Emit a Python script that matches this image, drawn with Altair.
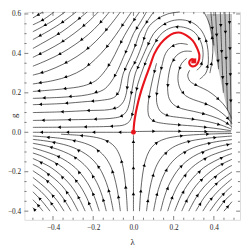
import math
import altair as alt
import pandas as pd

X_DOMAIN = [-0.542, 0.53]
Y_DOMAIN = [-0.444, 0.61]
X_TICKS = [-0.4, -0.2, 0.0, 0.2, 0.4]
Y_TICKS = [-0.4, -0.2, 0.0, 0.2, 0.4, 0.6]
W, H = 223, 215

# streamlines above the g = 0 axis, left of the red separatrix (flow order)
UPPER_LEFT = [
    [(0.315, 0.315), (0.335, 0.335), (0.345, 0.375), (0.345, 0.42), (0.33, 0.47), (0.3, 0.51), (0.26, 0.53), (0.21, 0.535),
     (0.165, 0.52), (0.13, 0.49), (0.105, 0.45), (0.07, 0.38), (0.04, 0.3), (0.022, 0.245), (0.012, 0.2),
     (0.003, 0.14), (-0.006, 0.09), (-0.02, 0.055), (-0.045, 0.038), (-0.1, 0.031), (-0.25, 0.027), (-0.5, 0.025)],
    [(0.33, 0.27), (0.36, 0.3), (0.372, 0.35), (0.372, 0.39), (0.37, 0.42), (0.36, 0.47), (0.335, 0.52), (0.295, 0.555),
     (0.245, 0.57), (0.19, 0.565), (0.14, 0.54), (0.1, 0.5),
     (0.075, 0.45), (0.04, 0.37), (0.01, 0.3), (-0.01, 0.2), (-0.022, 0.14), (-0.035, 0.105), (-0.06, 0.082),
     (-0.1, 0.072), (-0.2, 0.066), (-0.35, 0.063), (-0.5, 0.06)],
    [(0.23, 0.61), (0.17, 0.6), (0.12, 0.575), (0.08, 0.54), (0.06, 0.5), (0.045, 0.45), (0.015, 0.37), (-0.02, 0.3),
     (-0.035, 0.2), (-0.05, 0.155), (-0.075, 0.128), (-0.12, 0.115), (-0.23, 0.11), (-0.35, 0.104), (-0.5, 0.1)],
    [(0.1, 0.61), (0.06, 0.55), (0.03, 0.5), (0.013, 0.45), (-0.015, 0.38), (-0.05, 0.3), (-0.075, 0.2), (-0.1, 0.175),
     (-0.16, 0.162), (-0.23, 0.156), (-0.35, 0.146), (-0.5, 0.14)],
    [(0.065, 0.61), (0.03, 0.55), (0.0, 0.5), (-0.02, 0.45), (-0.05, 0.38), (-0.085, 0.3), (-0.115, 0.25),
     (-0.15, 0.215), (-0.23, 0.19), (-0.35, 0.178), (-0.5, 0.172)],
    [(0.03, 0.61), (-0.01, 0.55), (-0.045, 0.49), (-0.075, 0.43), (-0.11, 0.36), (-0.15, 0.3), (-0.19, 0.26),
     (-0.25, 0.235), (-0.35, 0.22), (-0.5, 0.207)],
    [(-0.01, 0.61), (-0.05, 0.55), (-0.09, 0.49), (-0.135, 0.43), (-0.19, 0.37), (-0.25, 0.32), (-0.32, 0.285),
     (-0.4, 0.262), (-0.5, 0.245)],
    [(-0.065, 0.61), (-0.11, 0.55), (-0.16, 0.49), (-0.215, 0.435), (-0.28, 0.385), (-0.35, 0.345), (-0.43, 0.31),
     (-0.5, 0.29)],
    [(-0.12, 0.61), (-0.17, 0.55), (-0.225, 0.495), (-0.29, 0.445), (-0.36, 0.4), (-0.43, 0.365), (-0.5, 0.335)],
    [(-0.175, 0.61), (-0.23, 0.555), (-0.29, 0.505), (-0.36, 0.455), (-0.43, 0.415), (-0.5, 0.38)],
    [(-0.23, 0.61), (-0.29, 0.56), (-0.355, 0.51), (-0.43, 0.465), (-0.5, 0.425)],
    [(-0.285, 0.61), (-0.35, 0.56), (-0.42, 0.515), (-0.5, 0.47)],
    [(-0.34, 0.61), (-0.41, 0.56), (-0.5, 0.51)],
    [(-0.395, 0.61), (-0.45, 0.57), (-0.5, 0.545)],
    [(-0.45, 0.61), (-0.5, 0.58)],
    [(-0.01, 0.0), (-0.1, 0.0), (-0.25, 0.0), (-0.5, 0.0)],
]

# streamlines right of the separatrix, running towards lambda = 1/2
UPPER_RIGHT = [
    [(0.01, 0.004), (0.1, 0.005), (0.2, 0.005), (0.3, 0.004), (0.4, 0.003), (0.485, 0.002)],
    [(0.115, 0.35), (0.1, 0.29), (0.085, 0.22), (0.075, 0.16), (0.072, 0.11), (0.08, 0.075), (0.105, 0.055),
     (0.15, 0.045), (0.22, 0.038), (0.32, 0.03), (0.42, 0.018), (0.485, 0.008)],
    [(0.27, 0.445), (0.23, 0.45), (0.19, 0.435), (0.16, 0.4), (0.14, 0.33), (0.125, 0.26), (0.115, 0.19),
     (0.118, 0.14), (0.135, 0.105), (0.17, 0.085), (0.23, 0.075), (0.3, 0.066), (0.38, 0.052), (0.44, 0.035),
     (0.487, 0.016)],
    [(0.29, 0.41), (0.25, 0.41), (0.215, 0.39), (0.19, 0.35), (0.175, 0.29), (0.17, 0.22), (0.178, 0.17),
     (0.2, 0.14), (0.24, 0.12), (0.3, 0.106), (0.36, 0.091), (0.42, 0.07), (0.465, 0.046), (0.49, 0.026)],
    [(0.265, 0.375), (0.24, 0.35), (0.225, 0.31), (0.222, 0.26), (0.235, 0.215), (0.26, 0.185), (0.3, 0.165),
     (0.35, 0.148), (0.4, 0.125), (0.44, 0.098), (0.47, 0.07), (0.49, 0.045)],
    [(0.28, 0.315), (0.27, 0.29), (0.28, 0.26), (0.3, 0.245), (0.33, 0.23), (0.37, 0.21), (0.41, 0.18),
     (0.445, 0.145), (0.47, 0.11), (0.488, 0.07)],
    [(0.38, 0.3), (0.392, 0.37), (0.395, 0.44), (0.388, 0.51), (0.37, 0.57), (0.35, 0.61)],
]

# streamlines inside the shaded region
SHADED = [
    [(0.385, 0.61), (0.393, 0.52), (0.4, 0.44)],
    [(0.408, 0.61), (0.415, 0.47), (0.423, 0.32)],
    [(0.432, 0.61), (0.438, 0.43), (0.447, 0.2)],
    [(0.455, 0.61), (0.46, 0.4), (0.468, 0.11)],
    [(0.477, 0.61), (0.481, 0.35), (0.486, 0.04)],
]

# streamlines below the g = 0 axis
LOWER_LEFT = [
    [(0.0, -0.4), (0.0, -0.2), (0.0, -0.015)],
    [(-0.03, -0.4), (-0.0345, -0.324), (-0.0405, -0.255), (-0.051, -0.18), (-0.066, -0.123), (-0.09, -0.077),
     (-0.12, -0.05), (-0.165, -0.031), (-0.24, -0.018), (-0.36, -0.01)],
    [(-0.065, -0.4), (-0.075, -0.324), (-0.088, -0.255), (-0.11, -0.18), (-0.143, -0.123), (-0.195, -0.077),
     (-0.26, -0.05), (-0.36, -0.031), (-0.5, -0.019)],
    [(-0.1, -0.4), (-0.115, -0.324), (-0.135, -0.255), (-0.17, -0.18), (-0.22, -0.123), (-0.3, -0.077),
     (-0.4, -0.05), (-0.5, -0.036)],
    [(-0.135, -0.4), (-0.155, -0.324), (-0.182, -0.255), (-0.23, -0.18), (-0.297, -0.123), (-0.405, -0.077),
     (-0.5, -0.056)],
    [(-0.17, -0.4), (-0.1955, -0.324), (-0.2295, -0.255), (-0.289, -0.18), (-0.374, -0.123), (-0.5, -0.079)],
    [(-0.205, -0.4), (-0.236, -0.324), (-0.277, -0.255), (-0.3485, -0.18), (-0.451, -0.123), (-0.5, -0.105)],
    [(-0.24, -0.4), (-0.276, -0.324), (-0.324, -0.255), (-0.408, -0.18), (-0.5, -0.133)],
    [(-0.275, -0.4), (-0.316, -0.324), (-0.371, -0.255), (-0.4675, -0.18), (-0.5, -0.163)],
    [(-0.31, -0.4), (-0.3565, -0.324), (-0.4185, -0.255), (-0.5, -0.195)],
    [(-0.345, -0.4), (-0.38, -0.346), (-0.43, -0.289), (-0.5, -0.229)],
    [(-0.38, -0.4), (-0.42, -0.344), (-0.46, -0.3), (-0.5, -0.265)],
    [(-0.415, -0.4), (-0.46, -0.343), (-0.5, -0.302)],
    [(-0.45, -0.4), (-0.475, -0.369), (-0.5, -0.342)],
    [(-0.485, -0.4), (-0.5, -0.382)],
]

LOWER_RIGHT = [
    [(0.03, -0.4), (0.0345, -0.324), (0.0405, -0.255), (0.051, -0.18), (0.066, -0.123), (0.09, -0.077),
     (0.12, -0.05), (0.165, -0.031), (0.24, -0.018), (0.36, -0.0096), (0.49, -0.006)],
    [(0.065, -0.4), (0.075, -0.324), (0.088, -0.255), (0.11, -0.18), (0.143, -0.123), (0.195, -0.077),
     (0.26, -0.05), (0.36, -0.031), (0.49, -0.019)],
    [(0.1, -0.4), (0.115, -0.324), (0.135, -0.255), (0.17, -0.18), (0.22, -0.123), (0.3, -0.077), (0.4, -0.05),
     (0.49, -0.037)],
    [(0.135, -0.4), (0.155, -0.324), (0.182, -0.255), (0.23, -0.18), (0.297, -0.123), (0.405, -0.077),
     (0.49, -0.058)],
    [(0.17, -0.4), (0.1955, -0.324), (0.2295, -0.255), (0.289, -0.18), (0.374, -0.123), (0.49, -0.082)],
    [(0.205, -0.4), (0.236, -0.324), (0.277, -0.255), (0.3485, -0.18), (0.451, -0.123), (0.49, -0.108)],
    [(0.24, -0.4), (0.276, -0.324), (0.324, -0.255), (0.408, -0.18), (0.49, -0.137)],
    [(0.275, -0.4), (0.316, -0.324), (0.371, -0.255), (0.4675, -0.18), (0.49, -0.168)],
    [(0.31, -0.4), (0.3565, -0.324), (0.4185, -0.255), (0.49, -0.201)],
    [(0.345, -0.4), (0.38, -0.346), (0.43, -0.289), (0.49, -0.236)],
    [(0.38, -0.4), (0.42, -0.344), (0.46, -0.3), (0.49, -0.273)],
    [(0.415, -0.4), (0.455, -0.345), (0.49, -0.312)],
    [(0.45, -0.4), (0.49, -0.352)],
]

RED_PATH = [(0.0, 0.0), (0.004, 0.05), (0.012, 0.1), (0.024, 0.156), (0.04, 0.215), (0.058, 0.27), (0.08, 0.33),
            (0.105, 0.4), (0.135, 0.45), (0.168, 0.483), (0.2, 0.502), (0.235, 0.505), (0.265, 0.49),
            (0.295, 0.465), (0.315, 0.43), (0.328, 0.39), (0.322, 0.355), (0.307, 0.337), (0.29, 0.335),
            (0.278, 0.348), (0.28, 0.362), (0.292, 0.37), (0.3, 0.362)]
FIXED_LAM = [0.0, 0.3]
FIXED_G = [0.0, 0.362]
FIXED_SHAPE = ["circle", "square"]

SHADE_G = [0.0, 0.6]
SHADE_LEFT = [0.49, 0.363]
SHADE_RIGHT = [0.49, 0.49]

SX = W / (X_DOMAIN[1] - X_DOMAIN[0])
SY = H / (Y_DOMAIN[1] - Y_DOMAIN[0])

all_lines = UPPER_LEFT + UPPER_RIGHT + SHADED + LOWER_LEFT + LOWER_RIGHT
rows, arrows = [], []
for k, line in enumerate(all_lines):
    for i, (lam, g) in enumerate(line):
        rows.append({"id": k, "i": i, "lam": lam, "g": g})
    seg = []
    for (l0, g0), (l1, g1) in zip(line[:-1], line[1:]):
        dx, dy = (l1 - l0) * SX, -(g1 - g0) * SY
        seg.append((l0, g0, l1, g1, math.hypot(dx, dy), dx, dy))
    total = sum(s[4] for s in seg)
    spacing = 27.0
    start = 9 + (k * 7) % 17
    targets = []
    p = start
    while p < total - 4:
        targets.append(p)
        p += spacing
    if not targets:
        targets = [total / 2]
    for t in targets:
        acc = 0.0
        for (l0, g0, l1, g1, ln, dx, dy) in seg:
            if acc + ln >= t and ln > 0:
                f = (t - acc) / ln
                ang = math.degrees(math.atan2(dy, dx)) % 360
                arrows.append({"lam": l0 + f * (l1 - l0), "g": g0 + f * (g1 - g0), "ang": ang})
                break
            acc += ln

lines_df = pd.DataFrame(rows)
arrows_df = pd.DataFrame(arrows)
red_df = pd.DataFrame([{"i": i, "lam": l, "g": g} for i, (l, g) in enumerate(RED_PATH)])
fixed_df = pd.DataFrame({"lam": FIXED_LAM, "g": FIXED_G, "shape": FIXED_SHAPE})
shade_df = pd.DataFrame({"g": SHADE_G, "lam": SHADE_LEFT, "l1": SHADE_RIGHT})

x_tick_vals = [round(-0.5 + 0.05 * j, 2) for j in range(21)]
y_tick_vals = [round(-0.4 + 0.05 * j, 2) for j in range(21)]
tick_rows = []
for v in x_tick_vals:
    major = abs(round(v / 0.2) * 0.2 - v) < 1e-6
    ln = 4.0 if major else 2.2
    tick_rows.append({"lam": v, "x2": v, "g": Y_DOMAIN[0], "y2": Y_DOMAIN[0] + ln / SY})
    tick_rows.append({"lam": v, "x2": v, "g": Y_DOMAIN[1], "y2": Y_DOMAIN[1] - ln / SY})
for v in y_tick_vals:
    major = abs(round(v / 0.2) * 0.2 - v) < 1e-6
    ln = 4.0 if major else 2.2
    tick_rows.append({"lam": X_DOMAIN[0], "x2": X_DOMAIN[0] + ln / SX, "g": v, "y2": v})
    tick_rows.append({"lam": X_DOMAIN[1], "x2": X_DOMAIN[1] - ln / SX, "g": v, "y2": v})
ticks_df = pd.DataFrame(tick_rows)

SERIF = "Liberation Serif"
xs = alt.Scale(domain=X_DOMAIN, nice=False, zero=False)
ys = alt.Scale(domain=Y_DOMAIN, nice=False, zero=False)
x_axis = alt.Axis(values=X_TICKS, format=".1f", ticks=False, domain=False, grid=False, labelFont=SERIF,
                  labelFontSize=7.5, labelPadding=4, labelColor="#222", titleFont=SERIF,
                  titleFontSize=9, titleFontWeight="normal", titleColor="#222", titleY=22,
                  titleBaseline="middle")
y_axis = alt.Axis(values=Y_TICKS, format=".1f", ticks=False, domain=False, grid=False, labelFont=SERIF,
                  labelFontSize=7.5, labelPadding=4, labelColor="#222", titleFont=SERIF,
                  titleFontSize=9, titleFontWeight="normal", titleColor="#222", titleX=-11, titleY=107,
                  titleAngle=270, titleAlign="center", titleBaseline="middle")


def X():
    return alt.X("lam:Q", scale=xs, axis=x_axis, title="λ")


def Y():
    return alt.Y("g:Q", scale=ys, axis=y_axis, title="g")


shade = alt.Chart(shade_df).mark_area(orient="horizontal", color="#c3c3c3").encode(
    y=Y(), x=X(), x2="l1:Q",
)

streams = alt.Chart(lines_df).mark_line(color="#2a2a2a", strokeWidth=0.75, interpolate="catmull-rom").encode(
    x=X(), y=Y(), detail="id:N", order="i:Q",
)

heads = alt.Chart(arrows_df).mark_point(shape="triangle-right", filled=True, color="#000", size=13,
                                        opacity=1).encode(
    x=X(), y=Y(), angle=alt.Angle("ang:Q", scale=None),
)

red = alt.Chart(red_df).mark_line(color="#e8141c", strokeWidth=2.2, interpolate="catmull-rom").encode(
    x=X(), y=Y(), order="i:Q",
)

fixed = alt.Chart(fixed_df).mark_point(filled=True, color="#e8141c", size=26, opacity=1).encode(
    x=X(), y=Y(), shape=alt.Shape("shape:N", scale=None, legend=None),
)

ticks = alt.Chart(ticks_df).mark_rule(color="#444", strokeWidth=0.7).encode(
    x=X(), x2="x2:Q", y=Y(), y2="y2:Q",
)

chart = alt.layer(shade, streams, heads, red, fixed, ticks).properties(
    width=W, height=H,
    autosize=alt.AutoSizeParams(type="none"),
    padding={"left": 17, "top": 0, "right": 1, "bottom": 25},
).configure_view(stroke="#444", strokeWidth=0.8).configure(background="white")

chart.save("out.html", embed_options={"renderer": "svg", "actions": False})
